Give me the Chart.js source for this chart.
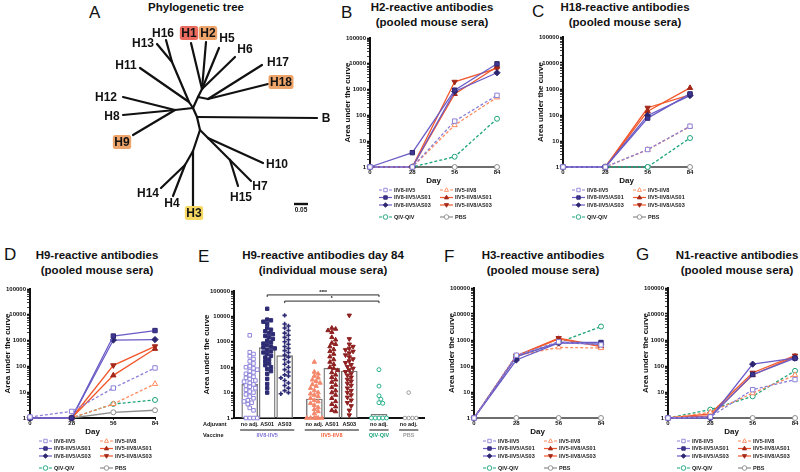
<!DOCTYPE html>
<html>
<head>
<meta charset="utf-8">
<title>Antibody responses</title>
<script src="https://cdn.jsdelivr.net/npm/chart.js@4.4.1/dist/chart.umd.min.js"></script>
<style>
  body { margin: 0; background: #fff; }
  #fig { position: relative; width: 800px; height: 472px; overflow: hidden; font-family: 'Liberation Sans', Arial, sans-serif; color: #111; }
  #fig canvas { position: absolute; }
  .letter { position: absolute; font-size: 17px; line-height: 20px; }
  .title { position: absolute; width: 220px; text-align: center; font-size: 11.5px; font-weight: bold; line-height: 15px; white-space: nowrap; }
</style>
</head>
<body>
<div id="fig">
  <div class="letter" style="left:89px;top:3px">A</div>
  <div class="letter" style="left:341px;top:3px">B</div>
  <div class="letter" style="left:532px;top:2px">C</div>
  <div class="letter" style="left:4px;top:245px">D</div>
  <div class="letter" style="left:198px;top:247px">E</div>
  <div class="letter" style="left:444px;top:247px">F</div>
  <div class="letter" style="left:636px;top:245px">G</div>

  <div class="title" style="left:86px;top:0px">Phylogenetic tree</div>
  <div class="title" style="left:322px;top:0px">H2-reactive antibodies<br>(pooled mouse sera)</div>
  <div class="title" style="left:515px;top:0px">H18-reactive antibodies<br>(pooled mouse sera)</div>
  <div class="title" style="left:-13px;top:248px">H9-reactive antibodies<br>(pooled mouse sera)</div>
  <div class="title" style="left:213px;top:248px">H9-reactive antibodies day 84<br>(individual mouse sera)</div>
  <div class="title" style="left:433px;top:248px">H3-reactive antibodies<br>(pooled mouse sera)</div>
  <div class="title" style="left:627px;top:248px">N1-reactive antibodies<br>(pooled mouse sera)</div>
</div>
<script>
const FONT = "'Liberation Sans', Arial, sans-serif";
Chart.defaults.font.family = FONT;
Chart.defaults.color = '#111';

// ---------- data ----------
const days = [0, 28, 56, 84];
const seriesNames = ['IIV8-IIV5', 'IIV8-IIV5/AS01', 'IIV8-IIV5/AS03', 'IIV5-IIV8',
  'IIV5-IIV8/AS01', 'IIV5-IIV8/AS03', 'QIV-QIV', 'PBS'];

// one row per series, one value per day
const h2Values = [
  [1, 1, 60, 600],
  [1, 3.6, 950, 10000],
  [1, 1, 850, 4500],
  [1, 1, 42, 500],
  [1, 1, 680, 7700],
  [1, 1, 2000, 6700],
  [1, 1, 2.5, 74],
  [1, 1, 1, 1]
];
const h18Values = [
  [1, 1, 4.7, 37],
  [1, 1, 76, 650],
  [1, 1, 96, 560],
  [1, 1, 4.6, 36],
  [1, 1, 140, 1100],
  [1, 1, 190, 600],
  [1, 1, 1, 13],
  [1, 1, 1, 1]
];
const h9Values = [
  [1.1, 1.8, 14.5, 87],
  [1, 1, 1500, 2450],
  [1, 1, 1050, 1100],
  [1, 1, 3.5, 21],
  [1, 1, 45, 480],
  [1, 1, 110, 600],
  [1, 1, 3.5, 5],
  [1, 1, 1.66, 2]
];
const h3Values = [
  [1, 260, 850, 650],
  [1, 230, 800, 800],
  [1, 170, 780, 700],
  [1, 250, 520, 490],
  [1, 240, 1100, 560],
  [1, 250, 1180, 600],
  [1, 230, 800, 3300],
  [1, 1, 1, 1]
];
const n1Values = [
  [1, 1.1, 12.3, 30],
  [1, 1.1, 47, 200],
  [1, 1, 118, 200],
  [1, 1.65, 9, 45],
  [1, 1.2, 45, 230],
  [1, 1.45, 55, 250],
  [1, 2.1, 6.8, 65],
  [1, 1, 1, 1]
];

const decadeLabels = [1, 10, 100, 1000, 10000, 100000];
const logTicks = [];
for (let e = 0; e < 5; e++) for (let m = 1; m < 10; m++) logTicks.push(m * 10 ** e);
logTicks.push(100000);

// panel E: individual mice at day 84
const vaccineGroups = ['IIV8-IIV5', 'IIV5-IIV8', 'QIV-QIV', 'PBS'];
const groupSizes = [3, 3, 1, 1];
const adjuvants = ['no adj.', 'AS01', 'AS03', 'no adj.', 'AS01', 'AS03', 'no adj.', 'no adj.'];
const day84Means = [21, 590, 285, 5.6, 91, 71, 1.4, 1];
const day84Mice = [
  [1800, 390, 330, 270, 210, 170, 140, 110, 100, 90, 80, 70, 62, 55, 48, 42, 38, 34, 30, 27, 24, 21, 19, 17, 15, 13, 11, 10, 8.5, 7, 6, 5, 4.5, 4, 3.5, 2.5, 2, 1, 1, 1, 1],
  [20000, 7500, 7000, 6200, 5000, 3500, 3000, 2600, 2200, 2000, 1700, 1500, 1300, 1100, 950, 850, 750, 650, 600, 550, 480, 420, 380, 330, 280, 240, 200, 170, 140, 120, 100, 85, 70, 55, 35, 22, 15, 10],
  [11000, 5000, 4200, 3500, 2800, 2200, 1800, 1500, 1200, 1000, 800, 650, 550, 450, 380, 300, 250, 200, 160, 130, 100, 80, 65, 50, 45, 38, 30, 24, 19, 15, 12, 10, 9],
  [160, 65, 55, 45, 38, 32, 28, 24, 21, 18, 15, 12, 10, 9, 8, 7, 6, 5, 4.4, 3.8, 3.2, 2.6, 2.2, 1.8, 1.5, 1, 1, 1, 1, 1, 1],
  [3500, 3200, 2800, 2400, 1500, 1200, 900, 800, 650, 500, 420, 330, 260, 200, 160, 130, 100, 90, 75, 62, 50, 40, 32, 26, 20, 16, 12, 10, 8, 6, 4.5, 3.5, 2.8, 2, 1.8],
  [11000, 1300, 800, 650, 550, 480, 420, 360, 300, 250, 210, 175, 150, 125, 105, 90, 78, 66, 57, 48, 40, 33, 28, 23, 19, 15, 12, 10, 8, 6.5, 5, 4, 3, 2, 1.3],
  [80, 18, 7.5, 5.5, 4, 3.8, 1, 1, 1, 1, 1],
  [10, 1, 1, 1, 1]
];
const significance = [
  { from: 1, to: 6, level: 70000, text: '****' },
  { from: 2, to: 6, level: 40000, text: '*' }
];

// panel A: unrooted tree, node positions and parents
const treeName   = ['', '', 'H12', 'H8', 'H9', '', 'H11', '', 'H13', 'H16', '', '', 'H1', 'H2', 'H5', 'H6', '', 'H17', 'H18', '', 'B', '', '', 'H10', '', 'H7', 'H15', '', 'H3', '', 'H14', 'H4'];
const treeParent = [-1, 0, 1, 1, 1, 0, 5, 5, 7, 7, 0, 10, 11, 11, 11, 11, 10, 16, 16, 0, 19, 19, 21, 22, 22, 24, 24, 21, 27, 27, 29, 29];
const treeX = [193, 175, 123, 123, 133, 189, 140, 172, 157, 166, 198, 202, 191, 206, 219, 235, 208, 262, 268, 197, 317, 200, 208, 263, 230, 251, 238, 193, 193, 185, 161, 173];
const treeY = [108, 110, 97, 115, 135, 102, 68, 62, 44, 40, 97, 89, 43, 42, 48, 57, 99, 65, 84, 117, 118, 130, 138, 163, 160, 181, 186, 151, 206, 165, 188, 196];
const scaleBar = 0.05;

// ---------- styles ----------
const seriesStyle = [
  { color: '#8b80d8', fill: '#ffffff', stroke: '#8b80d8', shape: 'rect', dash: [3, 2] },
  { color: '#6a5cc6', fill: '#3f3792', stroke: '#2c2670', shape: 'rect', dash: [] },
  { color: '#6a5cc6', fill: '#2c2670', stroke: '#2c2670', shape: 'rectRot', dash: [] },
  { color: '#ff8a5c', fill: '#ffffff', stroke: '#ff8a5c', shape: 'triangle', dash: [3, 2] },
  { color: '#f2572b', fill: '#a3281a', stroke: '#a3281a', shape: 'triangle', dash: [] },
  { color: '#f2572b', fill: '#a3281a', stroke: '#a3281a', shape: 'triangle', rot: 180, dash: [] },
  { color: '#1aa37a', fill: '#ffffff', stroke: '#1aa37a', shape: 'circle', dash: [3, 2] },
  { color: '#8c8c8c', fill: '#ffffff', stroke: '#8c8c8c', shape: 'circle', dash: [] }
];
const legendCol = [0, 0, 0, 1, 1, 1, 0, 1];
const legendRow = [0, 1, 2, 0, 1, 2, 3, 3];
const legendRowY = [23, 30.5, 38, 50];

const miceStyle = [
  { shape: 'rect', fill: '#ffffff', stroke: '#8f86d9', lw: 1, r: 2.5 },
  { shape: 'rect', fill: '#2d2b73', stroke: '#2d2b73', lw: 1, r: 2.4 },
  { shape: 'cross', fill: '#2d2b73', stroke: '#2d2b73', lw: 1.6, r: 2.2 },
  { shape: 'triangle', fill: '#f4876b', stroke: '#f4876b', lw: 1, r: 2.5 },
  { shape: 'triangle', fill: '#8e2020', stroke: '#8e2020', lw: 1, r: 2.5 },
  { shape: 'triangle', fill: '#8e2020', stroke: '#8e2020', lw: 1, r: 2.5, rot: 180 },
  { shape: 'circle', fill: '#ffffff', stroke: '#27b08a', lw: 1, r: 2 },
  { shape: 'circle', fill: '#ffffff', stroke: '#9a9a9a', lw: 1, r: 1.8 }
];
const groupColors = ['#7d72d2', '#f2623c', '#1fa37c', '#9a9a9a'];
const treeHighlight = { H1: '#ec6b5f', H2: '#eda46a', H9: '#eda46a', H18: '#eda46a', H3: '#f6d862' };
const treeLabelOffset = {
  H12: [-17, 0], H8: [-11, 1], H9: [-11, 7], H11: [-14, -3], H13: [-14, -1], H16: [-3, -7],
  H1: [-2, -10], H2: [2, -9], H5: [8, -10], H6: [10, -8], H17: [16, -3], H18: [13, -2],
  B: [9, 0], H10: [14, 1], H7: [9, 5], H15: [3, 11], H14: [-13, 5], H4: [-1, 7], H3: [1, 7]
};

// ---------- helpers ----------
function makeCanvas(left, top, width, height) {
  const c = document.createElement('canvas');
  c.width = width; c.height = height;
  c.style.left = left + 'px'; c.style.top = top + 'px';
  c.style.width = width + 'px'; c.style.height = height + 'px';
  document.getElementById('fig').appendChild(c);
  return c;
}

function drawMarker(ctx, shape, x, y, r, rot, fill, stroke, lw) {
  ctx.save();
  ctx.translate(x, y);
  ctx.rotate((rot || 0) * Math.PI / 180);
  ctx.beginPath();
  if (shape === 'circle') ctx.arc(0, 0, r, 0, 2 * Math.PI);
  else if (shape === 'rect') { const s = r * 0.75; ctx.rect(-s, -s, 2 * s, 2 * s); }
  else if (shape === 'rectRot') { ctx.moveTo(0, -r); ctx.lineTo(r, 0); ctx.lineTo(0, r); ctx.lineTo(-r, 0); ctx.closePath(); }
  else if (shape === 'triangle') { ctx.moveTo(0, -r); ctx.lineTo(r * 0.9, r * 0.6); ctx.lineTo(-r * 0.9, r * 0.6); ctx.closePath(); }
  ctx.fillStyle = fill; ctx.fill();
  ctx.lineWidth = lw; ctx.strokeStyle = stroke; ctx.stroke();
  ctx.restore();
}

function logAxis(width) {
  return {
    type: 'logarithmic', min: 1, max: 100000,
    afterBuildTicks: s => { s.ticks = logTicks.map(v => ({ value: v })); },
    afterFit: s => { s.width = width; },
    ticks: {
      autoSkip: false, padding: 1, color: '#111', font: { size: 6, weight: 'bold' },
      callback: v => decadeLabels.includes(v) ? String(v) : ''
    },
    grid: {
      drawOnChartArea: false, tickLength: 3, tickColor: '#111',
      tickWidth: c => (c.tick && decadeLabels.includes(c.tick.value)) ? 1.4 : 0.8
    },
    border: { color: '#111', width: 2 },
    title: { display: true, text: 'Area under the curve', padding: 0, color: '#111', font: { size: 8, weight: 'bold' } }
  };
}

function dayAxis() {
  return {
    type: 'linear', min: 0, max: 84,
    afterBuildTicks: s => { s.ticks = days.map(v => ({ value: v })); },
    afterFit: s => { s.height = 19; },
    ticks: { padding: 0, maxRotation: 0, color: '#111', font: { size: 6, weight: 'bold' } },
    grid: { drawOnChartArea: false, tickLength: 2, tickColor: '#111' },
    border: { color: '#111', width: 2 },
    title: { display: true, text: 'Day', padding: 0, color: '#111', font: { size: 8, weight: 'bold' } }
  };
}

const seriesLegend = {
  id: 'seriesLegend',
  afterDraw(chart) {
    const { ctx, chartArea } = chart;
    ctx.save();
    ctx.font = 'bold 5.5px ' + FONT;
    ctx.textBaseline = 'middle';
    seriesNames.forEach((name, i) => {
      const st = seriesStyle[i];
      const x = chartArea.left + (legendCol[i] ? 70 : 9);
      const y = chartArea.bottom + legendRowY[legendRow[i]];
      ctx.strokeStyle = st.color; ctx.lineWidth = 1.2; ctx.setLineDash(st.dash);
      ctx.beginPath(); ctx.moveTo(x, y); ctx.lineTo(x + 13, y); ctx.stroke();
      ctx.setLineDash([]);
      drawMarker(ctx, st.shape, x + 6.5, y, 2.3, st.rot, st.fill, st.stroke, 0.9);
      ctx.fillStyle = '#222';
      ctx.fillText(name, x + 15, y);
    });
    ctx.restore();
  }
};

function lineChart(values, g) {
  const left = g.axisX - 27, top = g.top - 8;
  const width = g.right + 8 - left, height = g.bottom + 60 - top;
  const canvas = makeCanvas(left, top, width, height);
  return new Chart(canvas, {
    type: 'line',
    data: {
      datasets: seriesNames.map((name, i) => {
        const st = seriesStyle[i];
        return {
          label: name,
          data: days.map((d, j) => ({ x: d, y: values[i][j] })),
          borderColor: st.color, borderWidth: 1.3, borderDash: st.dash,
          pointStyle: st.shape, pointRotation: st.rot || 0,
          pointRadius: st.shape === 'circle' ? 2.5 : 3.1,
          pointBackgroundColor: st.fill, pointBorderColor: st.stroke, pointBorderWidth: 1,
          clip: false
        };
      })
    },
    options: {
      responsive: false, animation: false, events: [],
      layout: { padding: { top: 8, right: 8, left: 0, bottom: height - (g.bottom - top) - 19 } },
      plugins: { legend: { display: false }, tooltip: { enabled: false } },
      scales: { x: dayAxis(), y: logAxis(27) }
    },
    plugins: [seriesLegend]
  });
}

// ---------- panels B, C, D, F, G ----------
lineChart(h2Values, { axisX: 370, top: 38, bottom: 167, right: 497 });
lineChart(h18Values, { axisX: 563, top: 37, bottom: 167, right: 690 });
lineChart(h9Values, { axisX: 30, top: 289, bottom: 418, right: 155 });
lineChart(h3Values, { axisX: 474, top: 288, bottom: 418, right: 601 });
lineChart(n1Values, { axisX: 668, top: 288, bottom: 418, right: 795 });

// ---------- panel E ----------
const groupPos = [];
(function () {
  let x = 0;
  groupSizes.forEach(n => { for (let k = 0; k < n; k++) { groupPos.push(x); x += 1; } x += 0.7; });
})();

// simple beeswarm: spread points sideways when they would overlap
function swarmOffsets(vals, pxUnit, pxDecade) {
  const placed = [], out = new Array(vals.length);
  const step = 1.9, minGap = 3.8;
  vals.map((v, i) => ({ v, i })).sort((a, b) => b.v - a.v).forEach(p => {
    const py = Math.log10(p.v) * pxDecade;
    let best = 0, bestGap = -1;
    for (let k = 0; k < 9; k++) {
      const off = (k % 2 ? 1 : -1) * Math.ceil(k / 2) * step;
      const gap = placed.reduce((m, q) => Math.min(m, Math.hypot(q.x - off, q.y - py)), 99);
      if (gap >= minGap) { best = off; bestGap = gap; break; }
      if (gap > bestGap) { bestGap = gap; best = off; }
    }
    placed.push({ x: best, y: py });
    out[p.i] = best / pxUnit;
  });
  return out;
}

const day84Labels = {
  id: 'day84Labels',
  afterDraw(chart) {
    const { ctx, chartArea: a, scales: { x, y } } = chart;
    ctx.save();
    ctx.font = 'bold 5.5px ' + FONT;
    ctx.textBaseline = 'middle';
    ctx.fillStyle = '#111';
    ctx.textAlign = 'left';
    ctx.fillText('Adjuvant', a.left - 31, a.bottom + 6);
    ctx.fillText('Vaccine', a.left - 31, a.bottom + 17);
    ctx.textAlign = 'center';
    adjuvants.forEach((t, i) => ctx.fillText(t, x.getPixelForValue(groupPos[i]), a.bottom + 6));
    let idx = 0;
    vaccineGroups.forEach((name, g) => {
      const x0 = x.getPixelForValue(groupPos[idx] - 0.55);
      const x1 = x.getPixelForValue(groupPos[idx + groupSizes[g] - 1] + 0.55);
      ctx.strokeStyle = '#111'; ctx.lineWidth = 1;
      ctx.beginPath(); ctx.moveTo(x0, a.bottom + 12); ctx.lineTo(x1, a.bottom + 12); ctx.stroke();
      ctx.fillStyle = groupColors[g];
      ctx.fillText(name, (x0 + x1) / 2, a.bottom + 17.5);
      idx += groupSizes[g];
    });
    ctx.fillStyle = '#111';
    significance.forEach(s => {
      const x0 = x.getPixelForValue(groupPos[s.from]);
      const x1 = x.getPixelForValue(groupPos[s.to]);
      const yp = y.getPixelForValue(s.level);
      ctx.beginPath();
      ctx.moveTo(x0, yp + 2); ctx.lineTo(x0, yp); ctx.lineTo(x1, yp); ctx.lineTo(x1, yp + 2);
      ctx.lineWidth = 0.9; ctx.stroke();
      ctx.font = 'bold 5px ' + FONT;
      ctx.fillText(s.text, (x0 + x1) / 2, yp - 2.5);
    });
    ctx.restore();
  }
};

(function () {
  const axisX = 234, top = 291, bottom = 418, right = 425;
  const left = axisX - 32, ctop = top - 8, width = right + 5 - left, height = 445 - ctop;
  const canvas = makeCanvas(left, ctop, width, height);
  const datasets = [{
    type: 'bar', order: 1,
    data: day84Means.map((m, i) => ({ x: groupPos[i], y: [1, m] })),
    backgroundColor: '#ffffff', borderColor: '#7a7a7a', borderWidth: 1.4,
    borderSkipped: false, barThickness: 16
  }];
  day84Mice.forEach((vals, g) => {
    const st = miceStyle[g];
    const offs = swarmOffsets(vals, 17.5, 25.5);
    datasets.push({
      type: 'scatter', order: 0,
      data: vals.map((v, k) => ({ x: groupPos[g] + offs[k], y: v })),
      pointStyle: st.shape, pointRotation: st.rot || 0, pointRadius: st.r,
      pointBackgroundColor: st.fill, pointBorderColor: st.stroke, pointBorderWidth: st.lw,
      clip: false
    });
  });
  new Chart(canvas, {
    type: 'bar',
    data: { datasets },
    options: {
      responsive: false, animation: false, events: [],
      layout: { padding: { top: 8, right: 5, left: 0, bottom: height - (bottom - ctop) - 1 } },
      plugins: { legend: { display: false }, tooltip: { enabled: false } },
      scales: {
        x: {
          type: 'linear', min: -0.9, max: 10, offset: false,
          afterFit: s => { s.height = 1; },
          ticks: { display: false },
          grid: { display: false },
          border: { color: '#111', width: 2 }
        },
        y: logAxis(32)
      }
    },
    plugins: [day84Labels]
  });
})();

// ---------- panel A ----------
const treeLabels = {
  id: 'treeLabels',
  afterDraw(chart) {
    const { ctx, scales: { x, y } } = chart;
    ctx.save();
    ctx.font = 'bold 12px ' + FONT;
    ctx.textAlign = 'center';
    ctx.textBaseline = 'middle';
    treeName.forEach((name, i) => {
      if (!name) return;
      const off = treeLabelOffset[name] || [0, 0];
      const cx = x.getPixelForValue(treeX[i] + off[0]);
      const cy = y.getPixelForValue(treeY[i] + off[1]);
      if (treeHighlight[name]) {
        const w = ctx.measureText(name).width + 3, h = 14;
        ctx.fillStyle = treeHighlight[name];
        ctx.beginPath();
        ctx.roundRect(cx - w / 2, cy - h / 2, w, h, 2.5);
        ctx.fill();
      }
      ctx.fillStyle = '#111';
      ctx.fillText(name, cx, cy + 0.5);
    });
    ctx.font = 'bold 6.5px ' + FONT;
    ctx.fillText(String(scaleBar), x.getPixelForValue(301), y.getPixelForValue(210));
    ctx.restore();
  }
};

(function () {
  const canvas = makeCanvas(85, 0, 255, 228);
  const datasets = [];
  treeParent.forEach((p, i) => {
    if (p < 0) return;
    datasets.push({
      data: [{ x: treeX[p], y: treeY[p] }, { x: treeX[i], y: treeY[i] }],
      showLine: true, borderColor: '#111', borderWidth: 2.2, pointRadius: 0,
      borderCapStyle: 'round', clip: false
    });
  });
  // scale bar: 0.05 substitutions per site = 14 px
  datasets.push({
    data: [{ x: 294, y: 204 }, { x: 294 + scaleBar * 280, y: 204 }],
    showLine: true, borderColor: '#111', borderWidth: 2.4, pointRadius: 0
  });
  new Chart(canvas, {
    type: 'scatter',
    data: { datasets },
    options: {
      responsive: false, animation: false, events: [],
      layout: { padding: 0 },
      plugins: { legend: { display: false }, tooltip: { enabled: false } },
      scales: {
        x: { display: false, min: 85, max: 340 },
        y: { display: false, min: 0, max: 228, reverse: true }
      }
    },
    plugins: [treeLabels]
  });
})();
</script>
</body>
</html>
